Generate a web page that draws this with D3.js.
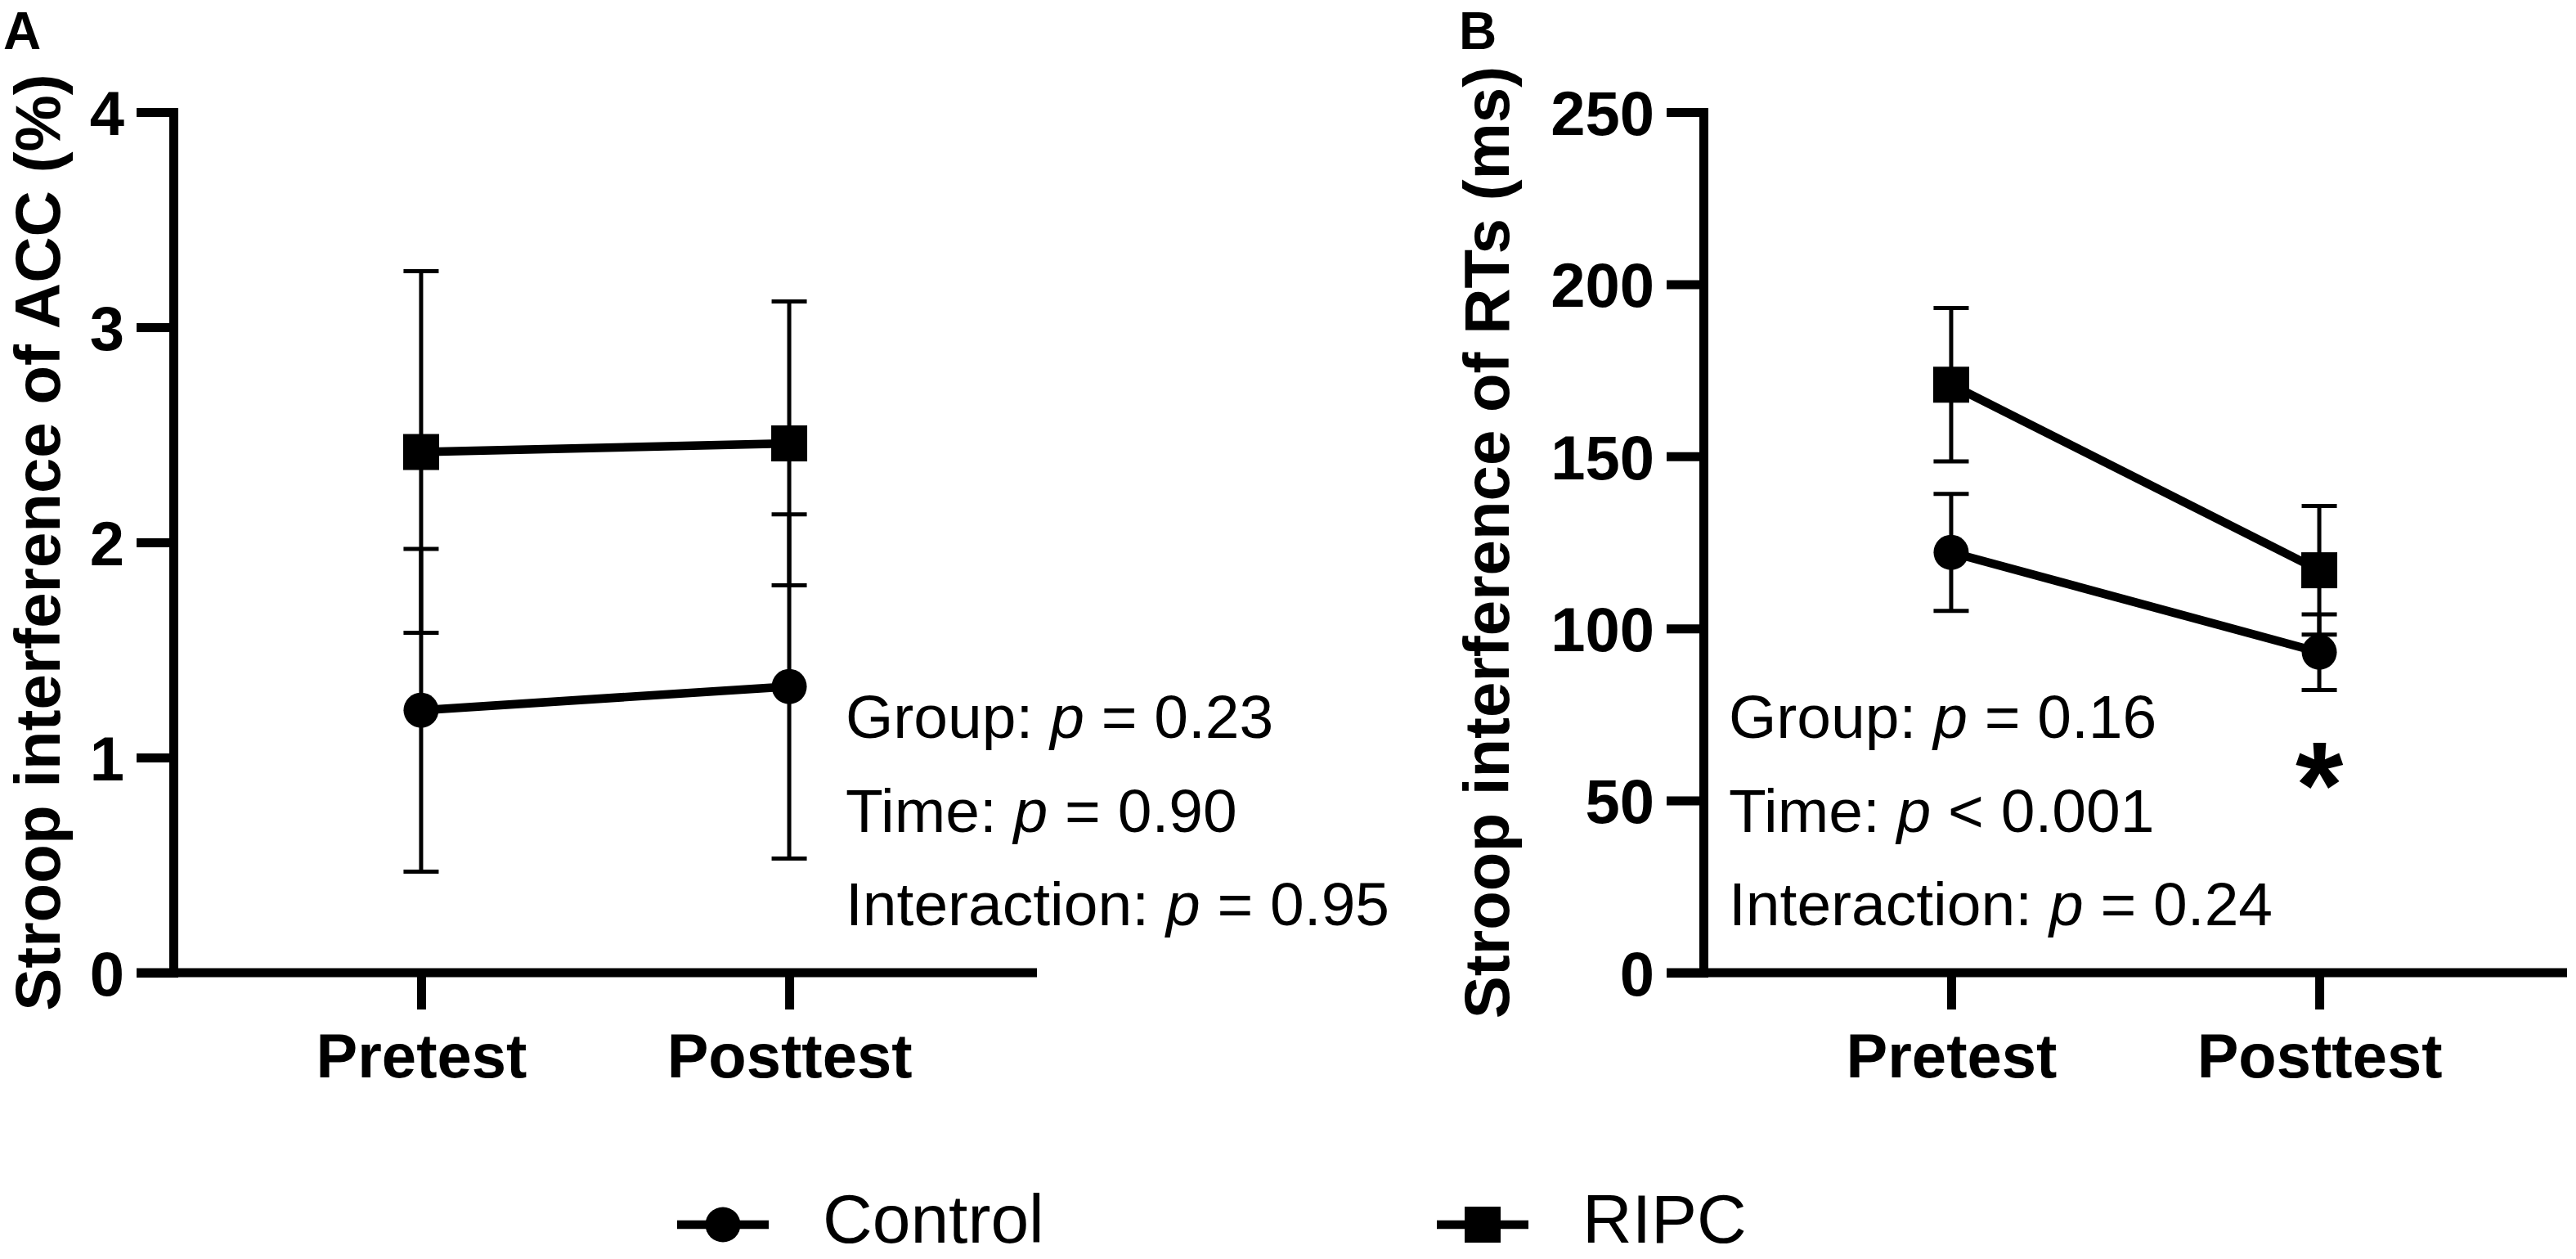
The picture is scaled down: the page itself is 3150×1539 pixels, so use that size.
<!DOCTYPE html>
<html>
<head>
<meta charset="utf-8">
<script src="https://cdn.jsdelivr.net/npm/d3@7/dist/d3.min.js"></script>
<style>
  html, body { margin: 0; padding: 0; background: #ffffff; }
  svg { display: block; }
  text { font-family: "Liberation Sans", Arial, Helvetica, sans-serif; fill: #000; }
</style>
</head>
<body>
<svg id="chart" width="3150" height="1539"></svg>
<script>
// ---------------- data ----------------
const categories = ["Pretest", "Posttest"];
const groups = ["Control", "RIPC"];

// Panel A: Stroop interference of ACC (%)
const accControlMean = [1.22, 1.33];
const accControlErr  = [0.75, 0.80];
const accRipcMean    = [2.42, 2.46];
const accRipcErr     = [0.84, 0.66];
const accTicks = [0, 1, 2, 3, 4];

// Panel B: Stroop interference of RTs (ms)
const rtControlMean = [122.1, 93.1];
const rtControlErr  = [17.0, 11.0];
const rtRipcMean    = [170.8, 116.9];
const rtRipcErr     = [22.3, 18.7];
const rtTicks = [0, 50, 100, 150, 200, 250];

const accStats = [
  ["Group: ", "p", " = 0.23"],
  ["Time: ", "p", " = 0.90"],
  ["Interaction: ", "p", " = 0.95"]
];
const rtStats = [
  ["Group: ", "p", " = 0.16"],
  ["Time: ", "p", " < 0.001"],
  ["Interaction: ", "p", " = 0.24"]
];

// ---------------- layout ----------------
const svg = d3.select("#chart");
const Y0 = 1189, YTOP = 137;
const AXIS_W = 11, TICK_LEN = 45, LINE_W = 10.5, ERR_W = 5, CAP_W = 43;
const MARK_R = 21.5, SQ = 44;

function panel(opts) {
  const g = svg.append("g");
  const x = d3.scalePoint().domain(categories)
    .range([opts.axisX, opts.axisX + 1056]).padding(0.673);
  const y = d3.scaleLinear().domain([0, opts.ticks[opts.ticks.length - 1]]).range([Y0, YTOP]);

  // y axis
  const ya = g.append("g").attr("transform", `translate(${opts.axisX},0)`)
    .call(d3.axisLeft(y).tickValues(opts.ticks).tickFormat(d3.format("d"))
      .tickSize(TICK_LEN).tickSizeOuter(0).tickPadding(15));
  ya.select(".domain").attr("stroke", "#000").attr("stroke-width", AXIS_W).attr("stroke-linecap", "square");
  ya.selectAll(".tick line").attr("stroke", "#000").attr("stroke-width", AXIS_W);
  ya.selectAll(".tick text").attr("font-size", 76).attr("font-weight", "bold").attr("dy", "0.36em")
    .style("font-family", '"Liberation Sans", Arial, sans-serif');

  // x axis
  const xa = g.append("g").attr("transform", `translate(0,${Y0})`)
    .call(d3.axisBottom(x).tickSize(TICK_LEN).tickSizeOuter(0));
  xa.select(".domain").remove();
  xa.append("line").attr("x1", opts.axisX - TICK_LEN).attr("x2", opts.axisX + 1056)
    .attr("y1", 0).attr("y2", 0).attr("stroke", "#000").attr("stroke-width", AXIS_W);
  xa.selectAll(".tick line").attr("stroke", "#000").attr("stroke-width", AXIS_W);
  xa.selectAll(".tick text").attr("font-size", 76).attr("font-weight", "bold")
    .attr("y", 128).attr("dy", 0)
    .style("font-family", '"Liberation Sans", Arial, sans-serif');

  // y title
  g.append("text")
    .attr("transform", `translate(${opts.titleX},${(Y0 + YTOP) / 2}) rotate(-90)`)
    .attr("text-anchor", "middle").attr("font-size", 78).attr("font-weight", "bold")
    .text(opts.title);

  // panel letter
  g.append("text").attr("x", opts.letterX).attr("y", 60)
    .attr("font-size", 64).attr("font-weight", "bold").text(opts.letter);

  const series = [
    { mean: opts.ctrlMean, err: opts.ctrlErr, shape: "circle" },
    { mean: opts.ripcMean, err: opts.ripcErr, shape: "square" }
  ];

  // error bars
  series.forEach(s => {
    const eg = g.append("g");
    categories.forEach((c, i) => {
      const cx = x(c), hi = y(s.mean[i] + s.err[i]), lo = y(s.mean[i] - s.err[i]);
      eg.append("line").attr("x1", cx).attr("x2", cx).attr("y1", hi).attr("y2", lo)
        .attr("stroke", "#000").attr("stroke-width", ERR_W);
      [hi, lo].forEach(yy => eg.append("line").attr("x1", cx - CAP_W / 2).attr("x2", cx + CAP_W / 2)
        .attr("y1", yy).attr("y2", yy).attr("stroke", "#000").attr("stroke-width", ERR_W));
    });
  });

  // lines
  const line = d3.line().x((d, i) => x(categories[i])).y(d => y(d));
  series.forEach(s => {
    g.append("path").datum(s.mean).attr("d", line).attr("fill", "none")
      .attr("stroke", "#000").attr("stroke-width", LINE_W);
  });

  // markers
  series.forEach(s => {
    categories.forEach((c, i) => {
      if (s.shape === "circle") {
        g.append("circle").attr("cx", x(c)).attr("cy", y(s.mean[i])).attr("r", MARK_R).attr("fill", "#000");
      } else {
        g.append("rect").attr("x", x(c) - SQ / 2).attr("y", y(s.mean[i]) - SQ / 2)
          .attr("width", SQ).attr("height", SQ).attr("fill", "#000");
      }
    });
  });

  // stats text
  opts.stats.forEach((st, k) => {
    const t = g.append("text").attr("x", opts.statX).attr("y", 902 + k * 114.5).attr("font-size", 75);
    t.append("tspan").text(st[0]);
    t.append("tspan").attr("font-style", "italic").text(st[1]);
    t.append("tspan").text(st[2]);
  });

  return { x, y, g };
}

const pA = panel({
  axisX: 212, ticks: accTicks, title: "Stroop interference of ACC (%)", titleX: 73,
  letter: "A", letterX: 4,
  ctrlMean: accControlMean, ctrlErr: accControlErr, ripcMean: accRipcMean, ripcErr: accRipcErr,
  stats: accStats, statX: 1034
});

const pB = panel({
  axisX: 2083, ticks: rtTicks, title: "Stroop interference of RTs (ms)", titleX: 1845,
  letter: "B", letterX: 1784,
  ctrlMean: rtControlMean, ctrlErr: rtControlErr, ripcMean: rtRipcMean, ripcErr: rtRipcErr,
  stats: rtStats, statX: 2114
});

// significance asterisk at posttest (panel B)
pB.g.append("text").attr("x", pB.x("Posttest")).attr("y", 1012)
  .attr("text-anchor", "middle").attr("font-size", 150).attr("font-weight", "bold").text("*");

// ---------------- legend ----------------
const legendX = [884, 1813];
const lg = svg.append("g");
groups.forEach((name, i) => {
  const cx = legendX[i], cy = 1497;
  lg.append("line").attr("x1", cx - 56).attr("x2", cx + 56).attr("y1", cy).attr("y2", cy)
    .attr("stroke", "#000").attr("stroke-width", LINE_W);
  if (i === 0) {
    lg.append("circle").attr("cx", cx).attr("cy", cy).attr("r", MARK_R).attr("fill", "#000");
  } else {
    lg.append("rect").attr("x", cx - SQ / 2).attr("y", cy - SQ / 2).attr("width", SQ).attr("height", SQ).attr("fill", "#000");
  }
  lg.append("text").attr("x", cx + 122).attr("y", 1519).attr("font-size", 84).text(name);
});
</script>
</body>
</html>
